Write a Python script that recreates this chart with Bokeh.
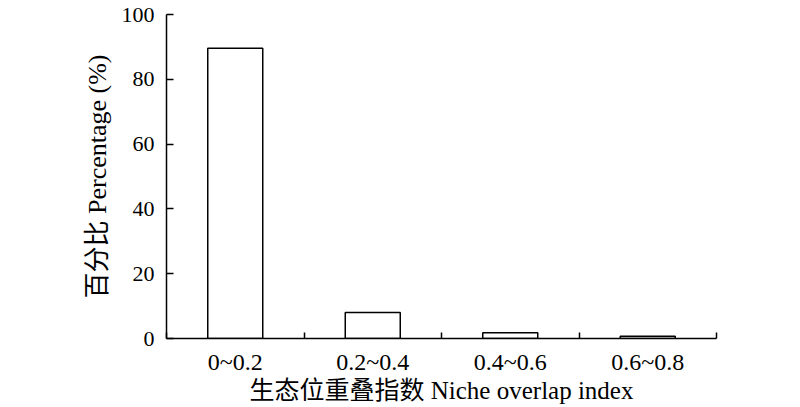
from bokeh.plotting import figure
from bokeh.models import ColumnDataSource, FixedTicker, Range1d
from bokeh.embed import file_html
from bokeh.resources import INLINE

categories = ["0~0.2", "0.2~0.4", "0.4~0.6", "0.6~0.8"]
percentages = [89.6, 8.0, 1.8, 0.7]
y_ticks = [0, 20, 40, 60, 80, 100]

FONT = "'Liberation Serif', 'Times New Roman', 'Noto Sans CJK SC', serif"

centers = [i + 0.5 for i in range(len(categories))]
source = ColumnDataSource(data=dict(x=centers, top=percentages, cat=categories))

p = figure(width=784, height=407, output_backend="svg", toolbar_location=None,
           x_range=Range1d(0, len(categories)), y_range=Range1d(0, 100),
           min_border_left=166, min_border_right=68, min_border_top=14,
           min_border_bottom=69)

p.vbar(x="x", top="top", width=0.4, source=source, fill_color="white",
       line_color="black", line_width=1.5)

p.grid.visible = False
p.outline_line_color = None
p.background_fill_color = "white"

# y axis
p.yaxis.ticker = FixedTicker(ticks=y_ticks)
p.yaxis.major_tick_in = 7
p.yaxis.major_tick_out = 0
p.yaxis.minor_tick_line_color = None
p.yaxis.axis_line_width = 1.5
p.yaxis.major_tick_line_width = 1.5
p.yaxis.axis_line_color = "black"
p.yaxis.major_label_text_font = FONT
p.yaxis.major_label_text_font_size = "22px"
p.yaxis.major_label_text_color = "black"
p.yaxis.major_label_standoff = 12
p.yaxis.axis_label = "百分比 Percentage (%)"
p.yaxis.axis_label_text_font = FONT
p.yaxis.axis_label_text_font_size = "26px"
p.yaxis.axis_label_text_font_style = "normal"
p.yaxis.axis_label_text_color = "black"
p.yaxis.axis_label_standoff = 7

# x axis: labels at category centers, boundary ticks as minor ticks
p.xaxis.ticker = FixedTicker(ticks=centers, minor_ticks=list(range(len(categories) + 1)))
p.xaxis.major_label_overrides = {c: lab for c, lab in zip(centers, categories)}
p.xaxis.major_tick_in = 0
p.xaxis.major_tick_out = 0
p.xaxis.minor_tick_in = 6
p.xaxis.minor_tick_out = 0
p.xaxis.minor_tick_line_width = 1.5
p.xaxis.minor_tick_line_color = "black"
p.xaxis.axis_line_width = 1.5
p.xaxis.axis_line_color = "black"
p.xaxis.major_label_text_font = FONT
p.xaxis.major_label_text_font_size = "24px"
p.xaxis.major_label_text_color = "black"
p.xaxis.major_label_standoff = 10
p.xaxis.axis_label = "生态位重叠指数 Niche overlap index"
p.xaxis.axis_label_text_font = FONT
p.xaxis.axis_label_text_font_size = "25px"
p.xaxis.axis_label_text_font_style = "normal"
p.xaxis.axis_label_text_color = "black"
p.xaxis.axis_label_standoff = -1

open("out.html", "w").write(file_html(p, INLINE))
